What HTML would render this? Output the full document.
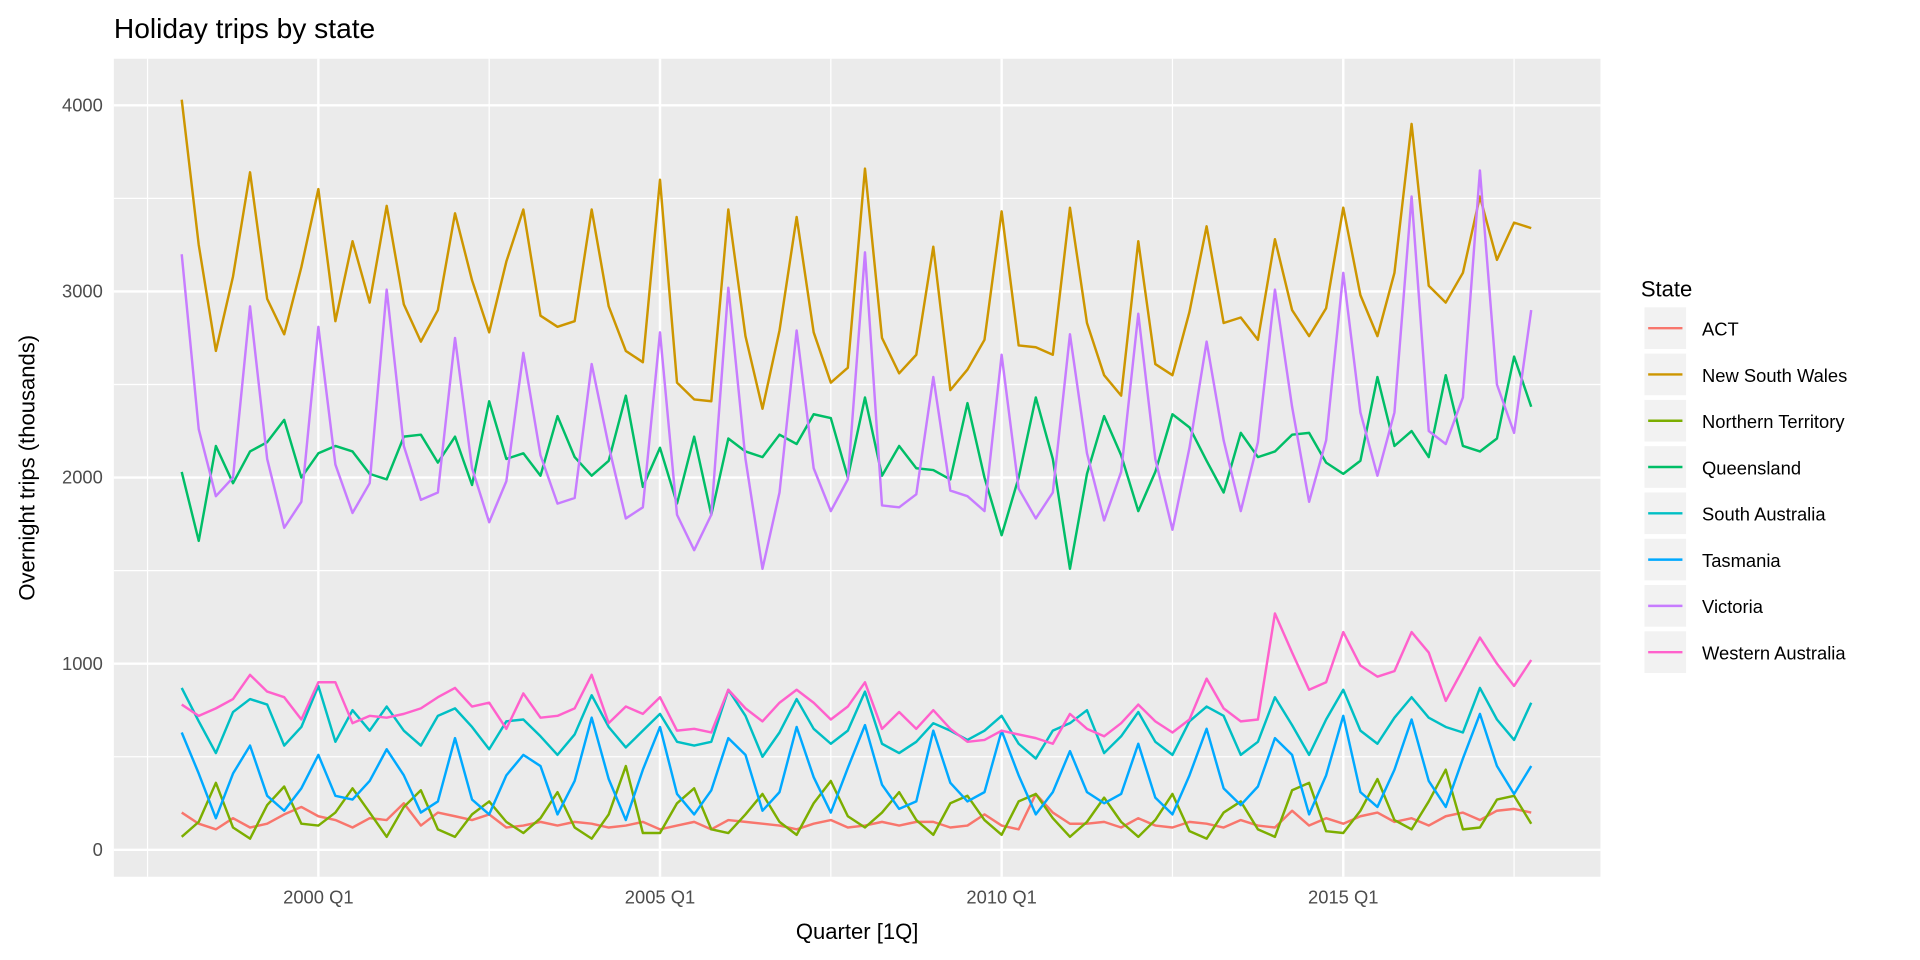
<!DOCTYPE html>
<html><head><meta charset="utf-8"><style>
body{margin:0;background:#fff;}
svg{display:block;font-family:"Liberation Sans",sans-serif;}
</style></head><body>
<svg id="s" width="1920" height="960" xmlns="http://www.w3.org/2000/svg">
<rect x="0" y="0" width="1920" height="960" fill="#fff"/>
<g transform="scale(1.22449)">
<rect x="93" y="48" width="1214" height="668" fill="#ebebeb"/>
<g id="grid"></g>
<g id="lines" fill="none" stroke-width="2" stroke-linejoin="round"></g>
<text x="93" y="31" font-size="23" fill="#000">Holiday trips by state</text>
<g font-size="15" fill="#4d4d4d" text-anchor="end">
<text x="84" y="699">0</text><text x="84" y="547">1000</text><text x="84" y="395">2000</text><text x="84" y="243">3000</text><text x="84" y="91">4000</text>
</g>
<g font-size="15" fill="#4d4d4d" text-anchor="middle">
<text x="260" y="738">2000 Q1</text><text x="539" y="738">2005 Q1</text><text x="818" y="738">2010 Q1</text><text x="1097" y="738">2015 Q1</text>
</g>
<text x="700" y="767" font-size="18" text-anchor="middle">Quarter [1Q]</text>
<text transform="translate(28,382) rotate(-90)" font-size="18" text-anchor="middle">Overnight trips (thousands)</text>
<text x="1340" y="242" font-size="18">State</text>
<g id="leg" font-size="15"></g>
</g>
</svg>
<script>
var NS="http://www.w3.org/2000/svg";
function el(t,a,p){var e=document.createElementNS(NS,t);for(var k in a)e.setAttribute(k,a[k]);p.appendChild(e);return e;}
var g=document.getElementById('grid');
[618,466,314,162].forEach(function(y){el('line',{x1:93,x2:1307,y1:y,y2:y,stroke:'#fff','stroke-width':1},g);});
[120.5,399.5,678.5,957.5,1236.5].forEach(function(x){el('line',{x1:x,x2:x,y1:48,y2:716,stroke:'#fff','stroke-width':1},g);});
[694,542,390,238,86].forEach(function(y){el('line',{x1:93,x2:1307,y1:y,y2:y,stroke:'#fff','stroke-width':2},g);});
[260,539,818,1097].forEach(function(x){el('line',{x1:x,x2:x,y1:48,y2:716,stroke:'#fff','stroke-width':2},g);});
var D={
ACT:[200,140,110,170,120,140,190,230,180,160,120,170,160,250,130,200,180,160,190,120,130,150,130,150,140,120,130,150,110,130,150,110,160,150,140,130,110,140,160,120,130,150,130,150,150,120,130,190,130,110,300,200,140,140,150,120,170,130,120,150,140,120,160,130,120,210,130,170,140,180,200,150,170,130,180,200,160,210,220,200],
NSW:[4030,3250,2680,3080,3640,2960,2770,3130,3550,2840,3270,2940,3460,2930,2730,2900,3420,3060,2780,3160,3440,2870,2810,2840,3440,2920,2680,2620,3600,2510,2420,2410,3440,2760,2370,2790,3400,2780,2510,2590,3660,2750,2560,2660,3240,2470,2580,2740,3430,2710,2700,2660,3450,2830,2550,2440,3270,2610,2550,2890,3350,2830,2860,2740,3280,2900,2760,2910,3450,2980,2760,3100,3900,3030,2940,3100,3510,3170,3370,3340],
NT:[70,150,360,120,60,240,340,140,130,200,330,200,70,230,320,110,70,190,260,150,90,170,310,120,60,190,450,90,90,250,330,110,90,190,300,150,80,250,370,180,120,200,310,160,80,250,290,160,80,260,300,170,70,150,280,150,70,160,300,100,60,200,260,110,70,320,360,100,90,210,380,160,110,260,430,110,120,270,290,140],
QLD:[2030,1660,2170,1970,2140,2190,2310,2000,2130,2170,2140,2020,1990,2220,2230,2080,2220,1960,2410,2100,2130,2010,2330,2110,2010,2090,2440,1950,2160,1860,2220,1800,2210,2140,2110,2230,2180,2340,2320,2000,2430,2010,2170,2050,2040,1990,2400,2000,1690,2000,2430,2100,1510,2020,2330,2120,1820,2030,2340,2270,2090,1920,2240,2110,2140,2230,2240,2080,2020,2090,2540,2170,2250,2110,2550,2170,2140,2210,2650,2380],
SA:[870,690,520,740,810,780,560,660,880,580,750,640,770,640,560,720,760,660,540,690,700,610,510,620,830,660,550,640,730,580,560,580,860,720,500,630,810,650,570,640,850,570,520,580,680,640,590,640,720,570,490,640,680,750,520,610,740,580,510,690,770,720,510,580,820,670,510,700,860,640,570,710,820,710,660,630,870,700,590,790],
TAS:[630,410,170,410,560,290,210,330,510,290,270,370,540,400,200,260,600,270,190,400,510,450,190,370,710,380,160,430,660,300,190,320,600,510,210,310,660,390,200,440,670,350,220,260,640,360,260,310,640,400,190,310,530,310,250,300,570,280,190,400,650,330,240,340,600,510,190,400,720,310,230,430,700,370,230,490,730,450,300,450],
VIC:[3200,2260,1900,2000,2920,2100,1730,1870,2810,2070,1810,1970,3010,2170,1880,1920,2750,2050,1760,1980,2670,2120,1860,1890,2610,2170,1780,1840,2780,1800,1610,1800,3020,2100,1510,1920,2790,2050,1820,1990,3210,1850,1840,1910,2540,1930,1900,1820,2660,1940,1780,1920,2770,2130,1770,2030,2880,2100,1720,2160,2730,2200,1820,2190,3010,2380,1870,2200,3100,2350,2010,2350,3510,2250,2180,2430,3650,2500,2240,2900],
WA:[780,720,760,810,940,850,820,700,900,900,680,720,710,730,760,820,870,770,790,650,840,710,720,760,940,680,770,730,820,640,650,630,860,760,690,790,860,790,700,770,900,650,740,650,750,650,580,590,640,620,600,570,730,650,610,680,780,690,630,700,920,760,690,700,1270,1060,860,900,1170,990,930,960,1170,1060,800,970,1140,1000,880,1020]};
var S=[['ACT','ACT','#F8766D'],['NSW','New South Wales','#CD9600'],['NT','Northern Territory','#7CAE00'],['QLD','Queensland','#00BE67'],['SA','South Australia','#00BFC4'],['TAS','Tasmania','#00A9FF'],['VIC','Victoria','#C77CFF'],['WA','Western Australia','#FF61CC']];
var L=document.getElementById('lines'),G=document.getElementById('leg');
S.forEach(function(s,k){
 var pts=D[s[0]].map(function(v,i){return (148.4+13.95*i).toFixed(1)+','+(694-v*0.152).toFixed(1);}).join(' ');
 el('polyline',{points:pts,stroke:s[2]},L);
 var y=251+k*37.8;
 el('rect',{x:1343,y:y,width:34,height:34,fill:'#f2f2f2'},G);
 el('line',{x1:1346,x2:1374,y1:y+17,y2:y+17,stroke:s[2],'stroke-width':2},G);
 var t=el('text',{x:1390,y:y+23},G);t.textContent=s[1];
});
</script>
</body></html>
